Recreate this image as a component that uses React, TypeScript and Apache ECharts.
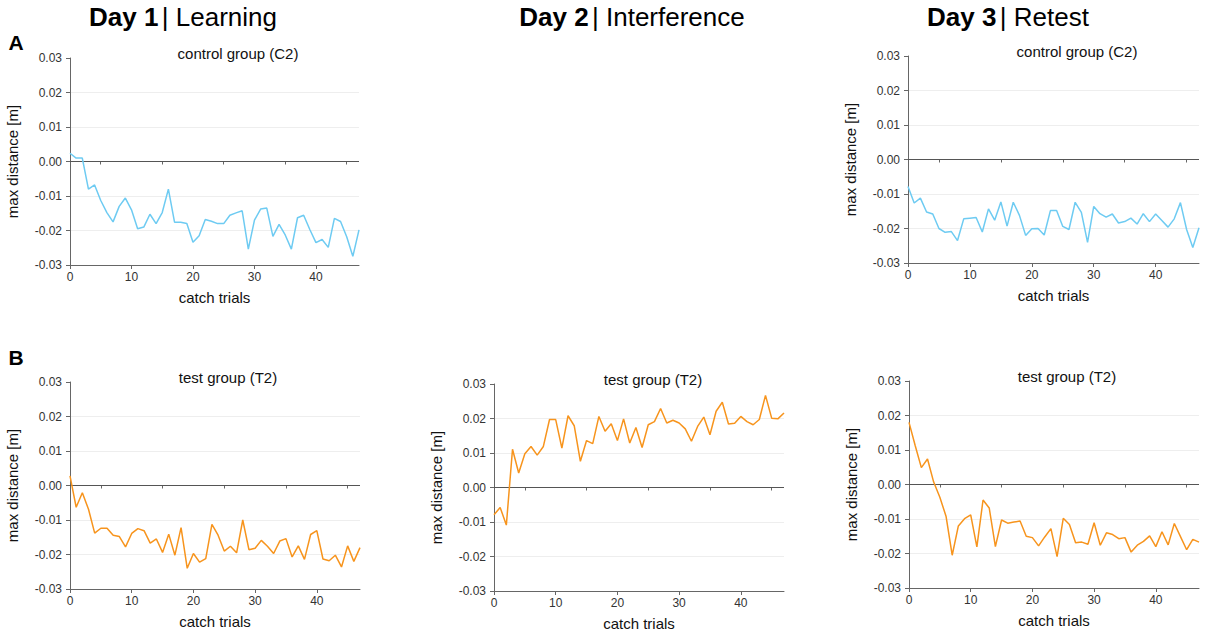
import React, { useEffect, useRef } from "react";
import * as echarts from "echarts";

const trials: number[] = Array.from({ length: 48 }, (_, i) => i);

const day1Control: number[] = [
  0.0024, 0.001, 0.001, -0.008, -0.0068, -0.0113, -0.0148, -0.0175, -0.013, -0.0106,
  -0.014, -0.0195, -0.019, -0.0153, -0.018, -0.0148, -0.008, -0.0176, -0.0176, -0.018,
  -0.0234, -0.0215, -0.0168, -0.0173, -0.018, -0.018, -0.0156, -0.0149, -0.0143, -0.0254,
  -0.017, -0.0138, -0.0135, -0.0217, -0.0182, -0.0213, -0.0254, -0.0163, -0.0156, -0.0197,
  -0.0235, -0.0226, -0.0249, -0.0165, -0.0174, -0.0218, -0.0275, -0.0198,
];

const day3Control: number[] = [
  -0.0078, -0.0126, -0.0112, -0.0152, -0.0158, -0.02, -0.0211, -0.0209, -0.0235, -0.0172,
  -0.017, -0.0168, -0.021, -0.0143, -0.0176, -0.0123, -0.0193, -0.0124, -0.0162, -0.022,
  -0.0201, -0.02, -0.0219, -0.0148, -0.0148, -0.0194, -0.0203, -0.0124, -0.0153, -0.024,
  -0.0136, -0.0157, -0.0167, -0.0158, -0.0184, -0.018, -0.017, -0.0187, -0.0157, -0.018,
  -0.0158, -0.0177, -0.0196, -0.0172, -0.0125, -0.0203, -0.0255, -0.0198,
];

const day1Test: number[] = [
  0.0028, -0.0063, -0.0021, -0.0069, -0.0138, -0.0124, -0.0124, -0.0144, -0.0148, -0.0178,
  -0.0139, -0.0125, -0.0131, -0.0167, -0.0155, -0.0194, -0.0141, -0.0202, -0.0122, -0.024,
  -0.0197, -0.0222, -0.0212, -0.0113, -0.0144, -0.019, -0.0176, -0.0195, -0.01, -0.0186,
  -0.0182, -0.0159, -0.0176, -0.0197, -0.0161, -0.0154, -0.0207, -0.0175, -0.0214, -0.0142,
  -0.0131, -0.0213, -0.0218, -0.0202, -0.0236, -0.0175, -0.022, -0.018,
];

const day2Test: number[] = [
  -0.0079, -0.0058, -0.0109, 0.0111, 0.0042, 0.0098, 0.0119, 0.0094, 0.0119, 0.0197,
  0.0197, 0.0114, 0.0208, 0.0179, 0.0076, 0.0136, 0.0127, 0.0206, 0.0163, 0.0185,
  0.0136, 0.0199, 0.0129, 0.0174, 0.0116, 0.0182, 0.0191, 0.0229, 0.0187, 0.0195,
  0.0187, 0.017, 0.0134, 0.0177, 0.0204, 0.0153, 0.0221, 0.0247, 0.0184, 0.0186,
  0.0206, 0.0191, 0.0182, 0.0197, 0.0267, 0.0201, 0.0199, 0.0216,
];

const day3Test: number[] = [
  0.018, 0.0113, 0.0049, 0.0074, 0.0007, -0.0037, -0.0092, -0.0205, -0.012, -0.0099,
  -0.0088, -0.0181, -0.0045, -0.0068, -0.018, -0.0103, -0.0112, -0.0109, -0.0106, -0.015,
  -0.0154, -0.0178, -0.0152, -0.0128, -0.0209, -0.0098, -0.0116, -0.0169, -0.0167, -0.0173,
  -0.0111, -0.0176, -0.014, -0.0145, -0.0157, -0.0154, -0.0196, -0.0176, -0.0165, -0.0149,
  -0.018, -0.0137, -0.0175, -0.0113, -0.0151, -0.0189, -0.0159, -0.0167,
];

const majorTicks: number[] = [0, 10, 20, 30, 40];
const minorTicks: number[] = [5, 15, 25, 35, 45];
const dayTitles = [
  { day: "Day 1", phase: "Learning" },
  { day: "Day 2", phase: "Interference" },
  { day: "Day 3", phase: "Retest" },
];

const BLUE = "#6ECBF2";
const ORANGE = "#F7941D";

const panels = [
  { data: day1Control, color: BLUE, title: "control group (C2)", left: 70, top: 58, width: 289, height: 207, tx: 238, ty: 53 },
  { data: day3Control, color: BLUE, title: "control group (C2)", left: 908, top: 56, width: 291, height: 207, tx: 1077, ty: 51 },
  { data: day1Test, color: ORANGE, title: "test group (T2)", left: 70, top: 382, width: 290, height: 207, tx: 228, ty: 377 },
  { data: day2Test, color: ORANGE, title: "test group (T2)", left: 494, top: 384, width: 290, height: 207, tx: 653, ty: 379 },
  { data: day3Test, color: ORANGE, title: "test group (T2)", left: 909, top: 381, width: 290, height: 207, tx: 1067, ty: 376 },
];

const FONT = "Liberation Sans, Arial, Helvetica, sans-serif";

export default function App() {
  const ref = useRef<HTMLDivElement>(null);
  useEffect(() => {
    document.body.style.margin = "0";
    if (!ref.current) return;
    const chart = echarts.init(ref.current, undefined, { renderer: "svg" });

    const grid: any[] = [];
    const xAxis: any[] = [];
    const yAxis: any[] = [];
    const series: any[] = [];
    const graphic: any[] = [];

    panels.forEach((p, i) => {
      grid.push({ left: p.left, top: p.top, width: p.width, height: p.height, containLabel: false });
      xAxis.push({
        type: "value",
        gridIndex: i,
        min: 0,
        max: 47,
        position: "bottom",
        name: "catch trials",
        nameLocation: "middle",
        nameGap: 25,
        nameTextStyle: { fontFamily: FONT, fontSize: 15, color: "#111" },
        axisLine: { show: true, onZero: false, lineStyle: { color: "#666", width: 1 } },
        axisTick: { show: true, length: 4, customValues: majorTicks, lineStyle: { color: "#666" } },
        axisLabel: { show: true, customValues: majorTicks, margin: 6, fontFamily: FONT, fontSize: 12, color: "#333" },
        splitLine: { show: false },
      });
      xAxis.push({
        type: "value",
        gridIndex: i,
        min: 0,
        max: 47,
        position: "bottom",
        axisLine: { show: false },
        axisTick: { show: true, length: 3, customValues: minorTicks, lineStyle: { color: "#666" } },
        axisLabel: { show: false },
        splitLine: { show: false },
      });
      yAxis.push({
        type: "value",
        gridIndex: i,
        min: -0.03,
        max: 0.03,
        interval: 0.01,
        name: "max distance [m]",
        nameLocation: "middle",
        nameGap: 50,
        nameTextStyle: { fontFamily: FONT, fontSize: 15, color: "#111" },
        axisLine: { show: true, lineStyle: { color: "#666", width: 1 } },
        axisTick: { show: true, length: 4, lineStyle: { color: "#666" } },
        axisLabel: {
          margin: 8,
          fontFamily: FONT,
          fontSize: 12,
          color: "#333",
          formatter: (v: number) => v.toFixed(2),
        },
        splitLine: { show: true, showMaxLine: false, showMinLine: false, lineStyle: { color: "#eeeeee", width: 1 } },
      });
      series.push({
        type: "line",
        xAxisIndex: i * 2,
        yAxisIndex: i,
        data: trials.map((t, k) => [t, p.data[k]]),
        showSymbol: false,
        symbol: "none",
        lineStyle: { color: p.color, width: 1.5 },
        itemStyle: { color: p.color },
        z: 3,
        markLine: {
          silent: true,
          symbol: "none",
          label: { show: false },
          lineStyle: { color: "#555", width: 1, type: "solid" },
          data: [{ yAxis: 0 }],
          z: 2,
        },
      });
      graphic.push({
        type: "text",
        x: p.tx,
        y: p.ty,
        z: 100,
        style: {
          text: p.title,
          fontFamily: FONT,
          fontSize: 15,
          fill: "#111",
          align: "center",
          verticalAlign: "middle",
        },
      });
    });

    const titleX = [183, 632, 1008];
    dayTitles.forEach((d, i) => {
      graphic.push({
        type: "text",
        x: titleX[i],
        y: 17,
        z: 100,
        style: {
          text: `{b|${d.day}} {r|| ${d.phase}}`,
          align: "center",
          verticalAlign: "middle",
          rich: {
            b: { fontFamily: FONT, fontSize: 26, fontWeight: "bold", fill: "#000" },
            r: { fontFamily: FONT, fontSize: 26, fontWeight: "normal", fill: "#000" },
          },
        },
      });
    });

    graphic.push({
      type: "text",
      x: 16,
      y: 42,
      z: 100,
      style: { text: "A", fontFamily: FONT, fontSize: 21, fontWeight: "bold", fill: "#000", align: "center", verticalAlign: "middle" },
    });
    graphic.push({
      type: "text",
      x: 16,
      y: 357,
      z: 100,
      style: { text: "B", fontFamily: FONT, fontSize: 21, fontWeight: "bold", fill: "#000", align: "center", verticalAlign: "middle" },
    });

    chart.setOption({
      animation: false,
      backgroundColor: "#ffffff",
      grid,
      xAxis,
      yAxis,
      series,
      graphic,
    });
    return () => chart.dispose();
  }, []);
  return <div ref={ref} style={{ position: "fixed", left: 0, top: 0, width: 1205, height: 636 }} />;
}
